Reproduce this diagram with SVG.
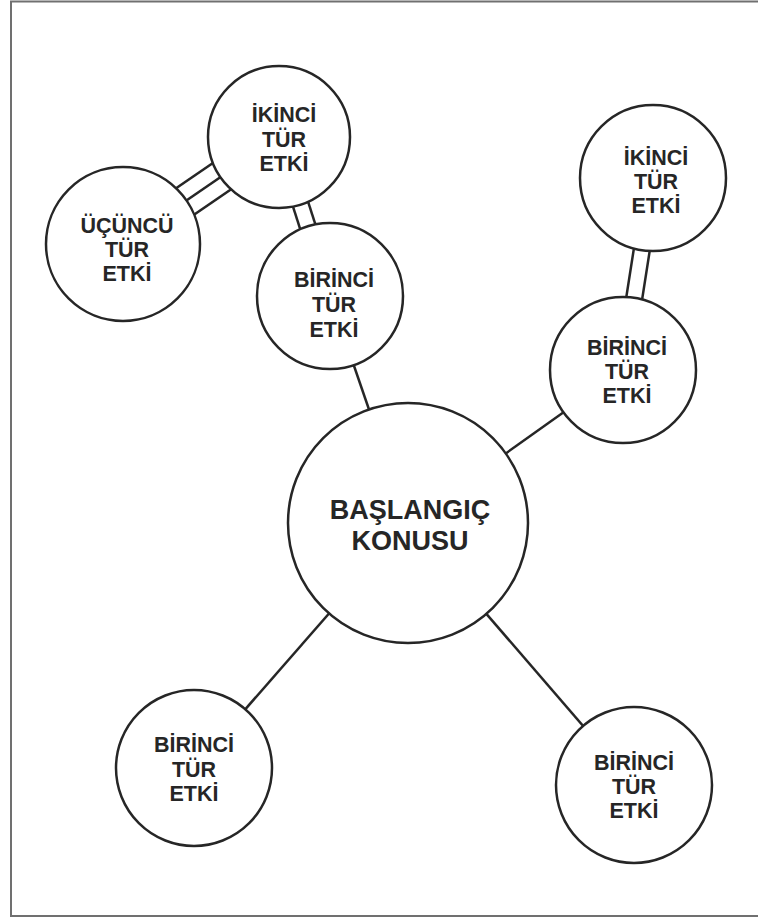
<svg xmlns="http://www.w3.org/2000/svg" width="758" height="921" viewBox="0 0 758 921">
  <style>
    .frame { fill: none; stroke: #707070; stroke-width: 2; }
    .node { fill: #ffffff; stroke: #262626; stroke-width: 2.5; }
    .link { stroke: #262626; stroke-width: 2.5; fill: none; }
    .lbl { font-family: "Liberation Sans", Arial, sans-serif; font-weight: bold; font-size: 21.5px; fill: #262626; text-anchor: middle; }
    .lbl-main { font-size: 27px; }
  </style>

  <rect width="758" height="921" fill="#ffffff"/>
  <!-- page frame: left, top and bottom edges -->
  <polyline class="frame" points="770,1.5 11,1.5 11,916 770,916"/>

  <!-- connectors are drawn centre to centre; white node fills hide the inner parts -->
  <g id="connectors">
    <!-- single links from the central topic -->
    <line class="link" x1="408" y1="523" x2="330" y2="296"/>
    <line class="link" x1="408" y1="523" x2="623" y2="370"/>
    <line class="link" x1="408" y1="523" x2="194" y2="768"/>
    <line class="link" x1="408" y1="523" x2="634" y2="785"/>
    <!-- double link: first to second (left branch) -->
    <line class="link" x1="271.5" y1="139.6" x2="322.5" y2="298.6"/>
    <line class="link" x1="286.5" y1="134.4" x2="337.5" y2="293.4"/>
    <!-- double link: first to second (right branch) -->
    <line class="link" x1="645.1" y1="176.8" x2="615.1" y2="368.8"/>
    <line class="link" x1="660.9" y1="179.2" x2="630.9" y2="371.2"/>
    <!-- triple link: second to third -->
    <line class="link" x1="114" y1="230.8" x2="270" y2="123.8"/>
    <line class="link" x1="123" y1="244" x2="279" y2="137"/>
    <line class="link" x1="132" y1="257.2" x2="288" y2="150.2"/>
  </g>

  <g id="node-center">
    <circle class="node" cx="408" cy="523" r="120"/>
    <text class="lbl lbl-main" x="410" y="519">BAŞLANGIÇ</text>
    <text class="lbl lbl-main" x="410" y="550">KONUSU</text>
  </g>

  <g id="node-left-first">
    <circle class="node" cx="330" cy="296" r="73"/>
    <text class="lbl" x="334" y="287">BİRİNCİ</text>
    <text class="lbl" x="334" y="312">TÜR</text>
    <text class="lbl" x="334" y="337">ETKİ</text>
  </g>

  <g id="node-left-second">
    <circle class="node" cx="279" cy="137" r="71"/>
    <text class="lbl" x="284" y="122">İKİNCİ</text>
    <text class="lbl" x="284" y="147">TÜR</text>
    <text class="lbl" x="284" y="171">ETKİ</text>
  </g>

  <g id="node-left-third">
    <circle class="node" cx="123" cy="244" r="77"/>
    <text class="lbl" x="127" y="233">ÜÇÜNCÜ</text>
    <text class="lbl" x="127" y="257">TÜR</text>
    <text class="lbl" x="127" y="281">ETKİ</text>
  </g>

  <g id="node-right-first">
    <circle class="node" cx="623" cy="370" r="73"/>
    <text class="lbl" x="627" y="355">BİRİNCİ</text>
    <text class="lbl" x="627" y="379">TÜR</text>
    <text class="lbl" x="627" y="403">ETKİ</text>
  </g>

  <g id="node-right-second">
    <circle class="node" cx="653" cy="178" r="73"/>
    <text class="lbl" x="656" y="165">İKİNCİ</text>
    <text class="lbl" x="656" y="189">TÜR</text>
    <text class="lbl" x="656" y="213">ETKİ</text>
  </g>

  <g id="node-bottom-left">
    <circle class="node" cx="194" cy="768" r="78"/>
    <text class="lbl" x="194" y="752">BİRİNCİ</text>
    <text class="lbl" x="194" y="777">TÜR</text>
    <text class="lbl" x="194" y="801">ETKİ</text>
  </g>

  <g id="node-bottom-right">
    <circle class="node" cx="634" cy="785" r="78"/>
    <text class="lbl" x="634" y="770">BİRİNCİ</text>
    <text class="lbl" x="634" y="794">TÜR</text>
    <text class="lbl" x="634" y="818">ETKİ</text>
  </g>
</svg>
